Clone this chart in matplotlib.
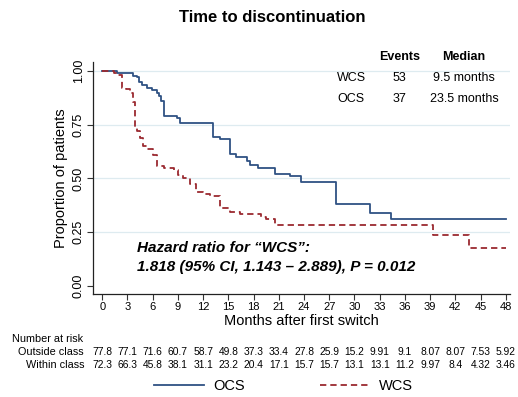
"""
Kaplan-Meier style chart: time to discontinuation, OCS vs WCS.
"""
import matplotlib
matplotlib.use("Agg")
import matplotlib.pyplot as plt
from matplotlib.transforms import blended_transform_factory

plt.rcParams["font.family"] = ["Liberation Sans", "DejaVu Sans"]

# survival step data
ocs_months = [0, 1.74, 3.64, 4.1, 4.4, 4.7, 5.3, 5.9, 6.5, 6.8, 7.0, 7.35, 8.86,
              9.25, 13.2, 14.0, 15.2, 15.9, 17.2, 17.6, 18.55, 20.5, 22.3, 23.6,
              27.8, 31.9, 34.4, 48]
ocs_surv = [1.0, 0.99, 0.977, 0.97, 0.95, 0.935, 0.92, 0.91, 0.897, 0.884, 0.862,
            0.79, 0.78, 0.76, 0.694, 0.684, 0.612, 0.599, 0.58, 0.563, 0.547,
            0.52, 0.513, 0.485, 0.381, 0.341, 0.312, 0.312]

wcs_months = [0, 1.35, 1.8, 2.3, 2.85, 3.3, 3.7, 3.9, 4.1, 4.5, 4.9, 5.3, 6.0,
              6.5, 7.3, 8.5, 9.05, 9.6, 10.4, 11.2, 12.0, 12.8, 14.0, 15.2, 16.4,
              18.9, 19.5, 20.5, 39.3, 43.65, 48]
wcs_surv = [1.0, 0.99, 0.98, 0.92, 0.915, 0.897, 0.855, 0.733, 0.72, 0.69, 0.65,
            0.636, 0.61, 0.558, 0.548, 0.54, 0.518, 0.5, 0.473, 0.438, 0.43, 0.42,
            0.361, 0.346, 0.335, 0.32, 0.31, 0.282, 0.237, 0.178, 0.178]

risk_months = list(range(0, 49, 3))
risk_outside = ["77.8", "77.1", "71.6", "60.7", "58.7", "49.8", "37.3", "33.4",
                "27.8", "25.9", "15.2", "9.91", "9.1", "8.07", "8.07", "7.53", "5.92"]
risk_within = ["72.3", "66.3", "45.8", "38.1", "31.1", "23.2", "20.4", "17.1",
               "15.7", "15.7", "13.1", "13.1", "11.2", "9.97", "8.4", "4.32", "3.46"]

table_groups = ["WCS", "OCS"]
table_events = ["53", "37"]
table_median = ["9.5 months", "23.5 months"]

ocs_color = "#2f5284"
wcs_color = "#9b2a30"
W, H = 518, 397

fig = plt.figure(figsize=(W / 100, H / 100), dpi=100)
ax = fig.add_axes([93 / W, 1 - 294 / H, (510 - 93) / W, (294 - 61.7) / H])

# gridlines
for yv in [0.25, 0.5, 0.75, 1.0]:
    ax.axhline(yv, color="#deebf0", lw=0.9, zorder=0)

ax.step(ocs_months, ocs_surv, where="post", color=ocs_color, lw=1.3, label="OCS")
ax.step(wcs_months, wcs_surv, where="post", color=wcs_color, lw=1.3,
        dashes=(3.5, 2.2), label="WCS")

ax.set_xlim(-1.1, 48.5)
ax.set_ylim(-0.037, 1.043)
ax.set_xticks(risk_months)
ax.set_yticks([0, 0.25, 0.5, 0.75, 1.0])
ax.set_yticklabels(["0.00", "0.25", "0.50", "0.75", "1.00"], rotation=90,
                   va="center")
ax.tick_params(axis="x", labelsize=8, length=4, width=0.8, pad=2,
               color="#333333")
ax.tick_params(axis="y", labelsize=9, length=4, width=0.8, pad=2,
               color="#333333")
for side in ["top", "right"]:
    ax.spines[side].set_visible(False)
for side in ["left", "bottom"]:
    ax.spines[side].set_color("#222222")
    ax.spines[side].set_linewidth(0.9)

ax.set_ylabel("Proportion of patients", fontsize=10.5, labelpad=3)
ax.set_xlabel("Months after first switch", fontsize=10.5, labelpad=1)

fig.text(272.5 / W, 1 - 17 / H, "Time to discontinuation", ha="center",
         va="center", fontsize=12, fontweight="bold")

# hazard ratio annotation
fig.text(137 / W, 1 - 248 / H, "Hazard ratio for \u201cWCS\u201d:", fontsize=11,
         fontweight="bold", style="italic", va="center")
fig.text(137 / W, 1 - 267 / H,
         "1.818 (95% CI, 1.143 \u2013 2.889), P = 0.012", fontsize=11,
         fontweight="bold", style="italic", va="center")

# events / median table
fig.text(399.5 / W, 1 - 56.7 / H, "Events", ha="center", va="center",
         fontsize=9, fontweight="bold")
fig.text(464 / W, 1 - 56.7 / H, "Median", ha="center", va="center",
         fontsize=9, fontweight="bold")
for i, grp in enumerate(table_groups):
    yy = 1 - (77.7 + 21.6 * i) / H
    fig.text(337 / W, yy, grp, ha="left", va="center", fontsize=9)
    fig.text(399.5 / W, yy, table_events[i], ha="center", va="center", fontsize=9)
    fig.text(464 / W, yy, table_median[i], ha="center", va="center", fontsize=9)

# number at risk
trans = blended_transform_factory(ax.transData, fig.transFigure)
fig.text(12 / W, 1 - 339 / H, "Number at risk", ha="left", va="center",
         fontsize=7.8)
fig.text(84 / W, 1 - 352 / H, "Outside class", ha="right", va="center",
         fontsize=7.8)
fig.text(84 / W, 1 - 365 / H, "Within class", ha="right", va="center",
         fontsize=7.8)
for m, a, b in zip(risk_months, risk_outside, risk_within):
    ax.text(m, 1 - 352 / H, a, transform=trans, ha="center", va="center",
            fontsize=7.4, clip_on=False)
    ax.text(m, 1 - 365 / H, b, transform=trans, ha="center", va="center",
            fontsize=7.4, clip_on=False)

handles, labels = ax.get_legend_handles_labels()
fig.legend(handles, labels, loc="center", ncol=2, frameon=False,
           bbox_to_anchor=(283.5 / W, 1 - 385.7 / H), fontsize=10.5,
           handlelength=3.4, handletextpad=0.6, columnspacing=5.2,
           borderpad=0)

fig.savefig("out.png", dpi=100)
